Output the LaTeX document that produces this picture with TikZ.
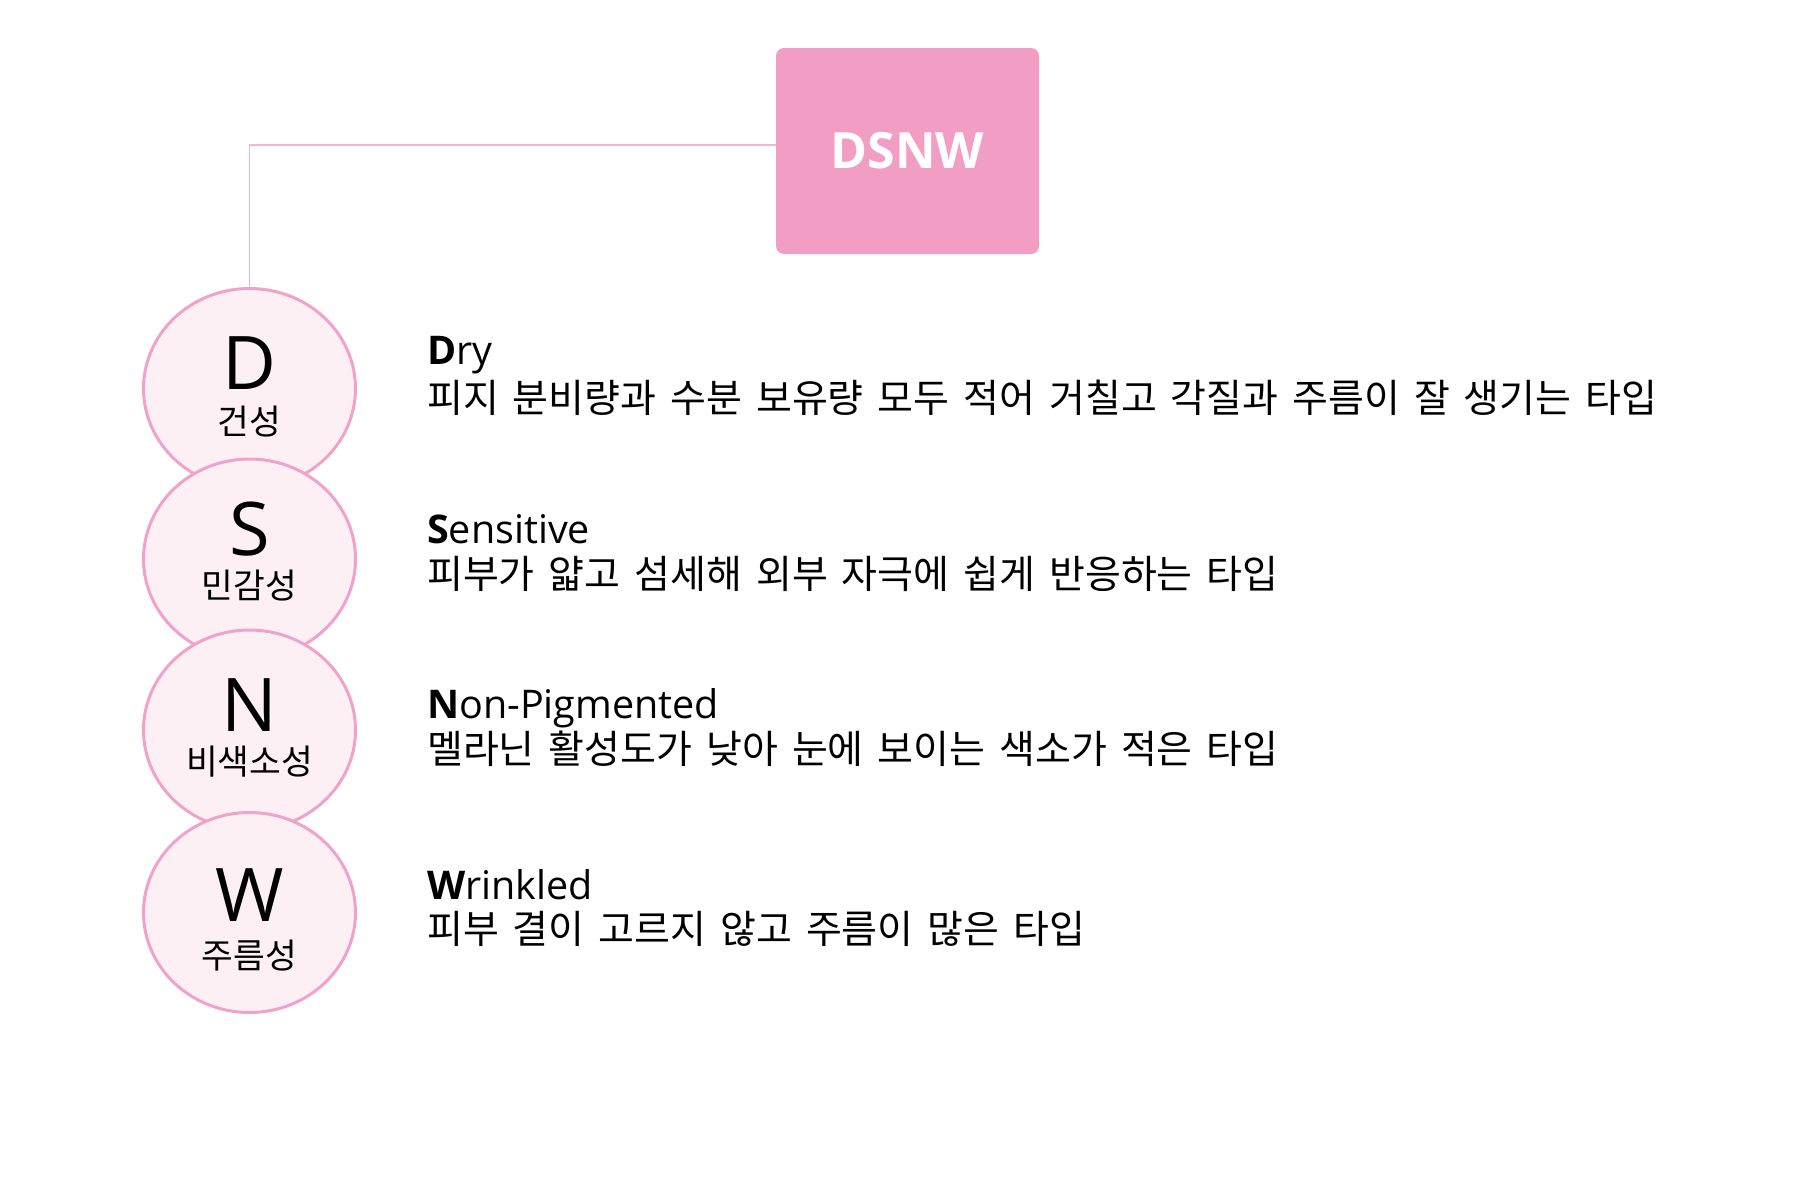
\documentclass[tikz,border=0pt]{standalone}
\usepackage{fontspec}
\setmainfont{Open Sans}
\newfontfamily\kr[WordSpace=1.6]{Noto Sans CJK KR}
\usetikzlibrary{shapes.geometric, positioning}
\definecolor{skinpink}{HTML}{F29EC4}
\definecolor{ringpink}{HTML}{F0A2C8}
\definecolor{softpink}{HTML}{FDF0F5}
\definecolor{linkpink}{HTML}{F4B6D2}

\begin{document}
\begin{tikzpicture}[x=1pt, y=-1pt,
    hub/.style={rectangle, rounded corners=8pt, fill=skinpink, minimum width=263pt,
        minimum height=206pt, inner sep=0pt, text=white,
        font=\fontsize{50}{60}\selectfont\bfseries},
    ring/.style={ellipse, draw=ringpink, fill=softpink, line width=3pt,
        minimum width=212pt, minimum height=200pt, inner sep=0pt},
    letter/.style={anchor=base, inner sep=0pt, font=\fontsize{74}{88}\selectfont},
    tag/.style={anchor=base, inner sep=0pt, font=\kr\fontsize{34.5}{40}\selectfont},
    title/.style={anchor=base west, inner sep=0pt, font=\fontsize{39.5}{46}\selectfont},
    desc/.style={anchor=base west, inner sep=0pt, font=\kr\fontsize{39}{46}\selectfont},
    link/.style={draw=linkpink, line width=1.2pt}
]
    \useasboundingbox (0,0) rectangle (1814,1197);

    % === top box ===
    \node[hub] (hub) at (907.5,151) {DSNW};

    % === rings, stacked top to bottom ===
    \node[ring] (d) at (249.5,388.5) {};
    \node[ring] (s) at (249.5,559) {};
    \node[ring] (n) at (249.5,730) {};
    \node[ring] (w) at (249.5,912.5) {};

    % --- ring texts ---
    \node[letter] (dl) at (249.5,389) {D};
    \node[tag]    (dt) at (249.5,434) {건성};
    \node[letter] (sl) at (249.5,555) {S};
    \node[tag]    (st) at (249.5,598) {민감성};
    \node[letter] (nl) at (249.5,731) {N};
    \node[tag]    (nt) at (249.5,774) {비색소성};
    \node[letter] (wl) at (249.5,921) {W};
    \node[tag]    (wt) at (249.5,968) {주름성};

    % --- descriptions ---
    \node[title] (dh) at (427,364) {\textbf{D}ry};
    \node[desc]  (dd) at (427,412) {피지 분비량과 수분 보유량 모두 적어 거칠고 각질과 주름이 잘 생기는 타입};
    \node[title] (sh) at (427,543) {\textbf{S}ensitive};
    \node[desc]  (sd) at (427,588) {피부가 얇고 섬세해 외부 자극에 쉽게 반응하는 타입};
    \node[title] (nh) at (427,718) {\textbf{N}on-Pigmented};
    \node[desc]  (nd) at (427,763) {멜라닌 활성도가 낮아 눈에 보이는 색소가 적은 타입};
    \node[title] (wh) at (427,899) {\textbf{W}rinkled};
    \node[desc]  (wd) at (427,943) {피부 결이 고르지 않고 주름이 많은 타입};

    % --- connector ---
    \draw[link] ([yshift=6pt]hub.west) -| (d.north);
\end{tikzpicture}
\end{document}
